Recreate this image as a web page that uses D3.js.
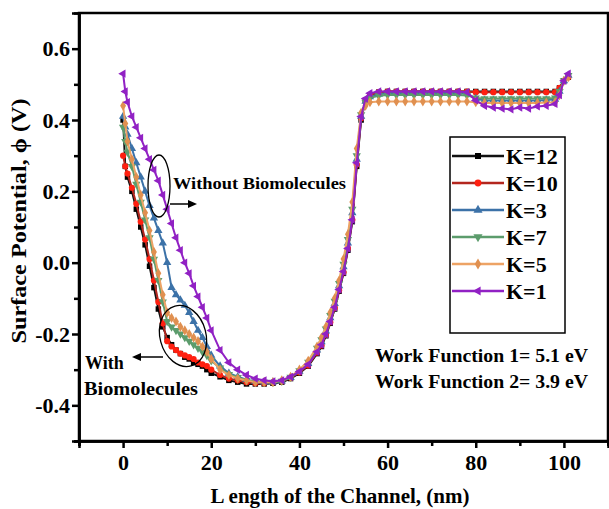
<!DOCTYPE html>
<html>
<head>
<meta charset="utf-8">
<script src="https://cdn.jsdelivr.net/npm/d3@7"></script>
<style>
  body { margin: 0; background: #fff; }
  svg { display: block; font-family: "Liberation Serif", "Times New Roman", serif; font-weight: bold; }
</style>
</head>
<body>
<script>
// position along the channel (nm)
var xs = [0, 0.5, 1, 2, 3, 4, 5, 6, 7, 8, 9, 10, 11, 12, 13, 14, 15, 16, 17, 18, 19, 20,
          22, 24, 26, 28, 30, 32, 34, 36, 38, 40, 42, 44,
          45, 46, 47, 48, 49, 50, 51, 52, 53, 54, 55, 56,
          58, 60, 62, 64, 66, 68, 70, 72, 74, 76, 78, 80, 82, 84, 86, 88, 90, 92, 94, 96, 98,
          99, 100, 101];

// surface potential (V) for each K
var k12 = [0.40, 0.27, 0.24, 0.20, 0.15, 0.10, 0.05, -0.01, -0.07, -0.13, -0.18, -0.21, -0.23, -0.245, -0.255, -0.265, -0.27, -0.28, -0.285, -0.29, -0.30, -0.31,
           -0.32, -0.33, -0.335, -0.34, -0.34, -0.34, -0.338, -0.335, -0.325, -0.31, -0.29, -0.255,
           -0.235, -0.205, -0.17, -0.13, -0.08, -0.03, 0.035, 0.115, 0.27, 0.40, 0.455, 0.47,
           0.478, 0.48, 0.48, 0.48, 0.48, 0.48, 0.48, 0.48, 0.48, 0.48, 0.48, 0.48, 0.48, 0.48, 0.48, 0.48, 0.48, 0.48, 0.48, 0.48, 0.48,
           0.49, 0.51, 0.52];
var k10 = [0.30, 0.27, 0.25, 0.21, 0.165, 0.115, 0.065, 0.01, -0.05, -0.11, -0.17, -0.22, -0.235, -0.245, -0.255, -0.26, -0.265, -0.27, -0.28, -0.285, -0.29, -0.30,
           -0.315, -0.325, -0.33, -0.335, -0.338, -0.338, -0.336, -0.333, -0.323, -0.308, -0.288, -0.252,
           -0.232, -0.202, -0.167, -0.127, -0.077, -0.027, 0.04, 0.12, 0.275, 0.405, 0.455, 0.47,
           0.478, 0.48, 0.48, 0.48, 0.48, 0.48, 0.48, 0.48, 0.48, 0.48, 0.48, 0.478, 0.478, 0.478, 0.478, 0.478, 0.478, 0.478, 0.478, 0.478, 0.478,
           0.49, 0.51, 0.52];
var k3  = [0.41, 0.38, 0.36, 0.32, 0.28, 0.24, 0.20, 0.16, 0.125, 0.09, 0.055, 0.0, -0.07, -0.09, -0.105, -0.12, -0.14, -0.165, -0.19, -0.21, -0.235, -0.26,
           -0.29, -0.31, -0.32, -0.328, -0.333, -0.335, -0.335, -0.332, -0.322, -0.305, -0.283, -0.245,
           -0.222, -0.192, -0.155, -0.115, -0.065, -0.012, 0.055, 0.14, 0.29, 0.41, 0.452, 0.465,
           0.472, 0.475, 0.475, 0.475, 0.475, 0.475, 0.475, 0.475, 0.475, 0.475, 0.474, 0.46, 0.455, 0.455, 0.455, 0.455, 0.455, 0.455, 0.455, 0.456, 0.458,
           0.48, 0.51, 0.525];
var k7  = [0.38, 0.34, 0.31, 0.27, 0.22, 0.17, 0.12, 0.07, 0.01, -0.05, -0.11, -0.165, -0.18, -0.19, -0.20, -0.21, -0.22, -0.23, -0.24, -0.25, -0.26, -0.275,
           -0.295, -0.313, -0.322, -0.33, -0.334, -0.335, -0.335, -0.332, -0.321, -0.303, -0.279, -0.24,
           -0.216, -0.186, -0.148, -0.108, -0.058, -0.004, 0.065, 0.15, 0.30, 0.415, 0.45, 0.462,
           0.468, 0.47, 0.47, 0.47, 0.47, 0.47, 0.47, 0.47, 0.47, 0.47, 0.469, 0.462, 0.46, 0.46, 0.46, 0.46, 0.46, 0.46, 0.46, 0.46, 0.462,
           0.48, 0.51, 0.525];
var k5  = [0.44, 0.39, 0.34, 0.29, 0.24, 0.19, 0.14, 0.09, 0.03, -0.03, -0.09, -0.14, -0.155, -0.165, -0.18, -0.19, -0.20, -0.21, -0.22, -0.235, -0.25, -0.27,
           -0.30, -0.315, -0.325, -0.33, -0.335, -0.335, -0.335, -0.33, -0.32, -0.30, -0.275, -0.235,
           -0.21, -0.18, -0.14, -0.10, -0.05, 0.01, 0.08, 0.17, 0.32, 0.42, 0.44, 0.45,
           0.452, 0.452, 0.452, 0.452, 0.452, 0.452, 0.452, 0.452, 0.452, 0.452, 0.452, 0.45, 0.448, 0.448, 0.448, 0.448, 0.448, 0.448, 0.448, 0.449, 0.45,
           0.47, 0.51, 0.52];
var k1  = [0.53, 0.48, 0.45, 0.41, 0.38, 0.35, 0.32, 0.29, 0.26, 0.23, 0.19, 0.15, 0.11, 0.07, 0.035, 0.0, -0.03, -0.065, -0.095, -0.125, -0.155, -0.19,
           -0.245, -0.28, -0.30, -0.315, -0.325, -0.33, -0.333, -0.33, -0.32, -0.305, -0.285, -0.25,
           -0.23, -0.20, -0.165, -0.125, -0.075, -0.025, 0.04, 0.12, 0.28, 0.41, 0.46, 0.475,
           0.48, 0.48, 0.48, 0.48, 0.48, 0.48, 0.48, 0.48, 0.48, 0.48, 0.478, 0.455, 0.44, 0.435, 0.432, 0.43, 0.435, 0.432, 0.438, 0.44, 0.445,
           0.47, 0.51, 0.53];

// legend labels and tick labels
var seriesNames = ["K=12", "K=10", "K=3", "K=7", "K=5", "K=1"];
var xTicks = [0, 20, 40, 60, 80, 100];
var xMinor = [-10, 10, 30, 50, 70, 90, 110];
var yTicks = [-0.4, -0.2, 0.0, 0.2, 0.4, 0.6];
var yMinor = [-0.5, -0.3, -0.1, 0.1, 0.3, 0.5];

var series = [
  {name: seriesNames[0], values: k12, line: "#111111", fill: "#000000", shape: d3.symbolSquare, rot: 0},
  {name: seriesNames[1], values: k10, line: "#b3261e", fill: "#ff2010", shape: d3.symbolCircle, rot: 0},
  {name: seriesNames[2], values: k3,  line: "#3c72a8", fill: "#3c72a8", shape: d3.symbolTriangle, rot: 0},
  {name: seriesNames[3], values: k7,  line: "#5c9c6c", fill: "#5c9c6c", shape: d3.symbolTriangle, rot: 180},
  {name: seriesNames[4], values: k5,  line: "#eda365", fill: "#e09050", shape: d3.symbolDiamond, rot: 0},
  {name: seriesNames[5], values: k1,  line: "#9121c4", fill: "#9121c4", shape: d3.symbolTriangle, rot: -90}
];

// plot box
var plotLeft = 79, plotRight = 608, plotTop = 13, plotBottom = 441;

var x = d3.scaleLinear().domain([-10, 110]).range([plotLeft, plotRight]);
var y = d3.scaleLinear().domain([-0.5, 0.7]).range([plotBottom, plotTop]);

var svg = d3.select("body").append("svg")
    .attr("width", 609)
    .attr("height", 509);

var valueline = d3.line()
    .x(function(d){ return x(d[0]); })
    .y(function(d){ return y(d[1]); });

// draw each series with its markers
series.forEach(function(s) {
  var pts = xs.map(function(v, i){ return [v, s.values[i]]; });
  var g = svg.append("g");
  g.append("path")
      .datum(pts)
      .attr("fill", "none")
      .attr("stroke", s.line)
      .attr("stroke-width", 2)
      .attr("d", valueline);
  g.selectAll("path.m")
      .data(pts)
      .enter()
      .append("path")
      .classed("m", true)
      .attr("d", d3.symbol().type(s.shape).size(30))
      .attr("fill", s.fill)
      .attr("transform", function(d){
        return "translate(" + x(d[0]) + "," + y(d[1]) + ") rotate(" + s.rot + ")";
      });
});

// frame
svg.append("rect")
    .attr("x", plotLeft).attr("y", plotTop)
    .attr("width", plotRight - plotLeft).attr("height", plotBottom - plotTop)
    .attr("fill", "none")
    .attr("stroke", "#000")
    .attr("stroke-width", 2.5);

// x axis
var xAxis = svg.append("g")
    .attr("transform", "translate(0," + plotBottom + ")")
    .call(d3.axisBottom(x).tickValues(xTicks).tickSize(7).tickFormat(function(d){ return d; }));
svg.append("g")
    .attr("transform", "translate(0," + plotBottom + ")")
    .call(d3.axisBottom(x).tickValues(xMinor).tickSize(5).tickFormat(""));

// y axis
var yAxis = svg.append("g")
    .attr("transform", "translate(" + plotLeft + ",0)")
    .call(d3.axisLeft(y).tickValues(yTicks).tickSize(7).tickFormat(function(d){ return d.toFixed(1); }));
svg.append("g")
    .attr("transform", "translate(" + plotLeft + ",0)")
    .call(d3.axisLeft(y).tickValues(yMinor).tickSize(5).tickFormat(""));

svg.selectAll(".domain").attr("stroke-width", 2.5);
svg.selectAll(".tick line").attr("stroke-width", 2.5);
xAxis.selectAll("text")
    .attr("font-size", 22)
    .attr("font-family", "Liberation Serif")
    .attr("font-weight", "bold")
    .attr("y", 13);
yAxis.selectAll("text")
    .attr("font-size", 22)
    .attr("font-family", "Liberation Serif")
    .attr("font-weight", "bold")
    .attr("x", -9);

// axis titles
svg.append("text")
    .attr("x", 340)
    .attr("y", 503)
    .attr("text-anchor", "middle")
    .style("font-size", "21px")
    .text("L ength of the Channel, (nm)");

svg.append("text")
    .attr("transform", "translate(26,221) rotate(-90)")
    .attr("text-anchor", "middle")
    .attr("textLength", 245)
    .attr("lengthAdjust", "spacingAndGlyphs")
    .style("font-size", "20px")
    .text("Surface Potential, \u03d5  (V)");

// legend
var legend = svg.append("g");
legend.append("rect")
    .attr("x", 450).attr("y", 137)
    .attr("width", 115).attr("height", 196)
    .attr("fill", "#fff")
    .attr("stroke", "#000")
    .attr("stroke-width", 1.5);
var legendY = d3.scalePoint().domain(seriesNames).range([156, 291]);
series.forEach(function(s) {
  var ly = legendY(s.name);
  legend.append("line")
      .attr("x1", 452).attr("x2", 504)
      .attr("y1", ly).attr("y2", ly)
      .attr("stroke", s.line)
      .attr("stroke-width", 2.5);
  legend.append("path")
      .attr("d", d3.symbol().type(s.shape).size(36))
      .attr("fill", s.fill)
      .attr("transform", "translate(478," + ly + ") rotate(" + s.rot + ")");
  legend.append("text")
      .attr("x", 506)
      .attr("y", ly + 8)
      .style("font-size", "22px")
      .text(s.name);
});

// annotations
svg.append("ellipse")
    .attr("cx", 159).attr("cy", 186).attr("rx", 11).attr("ry", 31)
    .attr("fill", "none").attr("stroke", "#000").attr("stroke-width", 1.3);
svg.append("line")
    .attr("x1", 170).attr("y1", 204).attr("x2", 190).attr("y2", 204)
    .attr("stroke", "#000").attr("stroke-width", 1.5);
svg.append("path")
    .attr("d", "M197,204 L188,200 L188,208 Z")
    .attr("fill", "#000");
svg.append("text")
    .attr("x", 173).attr("y", 189)
    .attr("textLength", 173)
    .attr("lengthAdjust", "spacingAndGlyphs")
    .style("font-size", "16px")
    .text("Without Biomolecules");

svg.append("ellipse")
    .attr("cx", 183).attr("cy", 336).attr("rx", 23).attr("ry", 31)
    .attr("transform", "rotate(-15,183,336)")
    .attr("fill", "none").attr("stroke", "#000").attr("stroke-width", 1.3);
svg.append("line")
    .attr("x1", 163).attr("y1", 357).attr("x2", 140).attr("y2", 357)
    .attr("stroke", "#000").attr("stroke-width", 1.5);
svg.append("path")
    .attr("d", "M132,357 L141,353 L141,361 Z")
    .attr("fill", "#000");
svg.append("text")
    .attr("x", 85).attr("y", 369)
    .style("font-size", "18px")
    .text("With");
svg.append("text")
    .attr("x", 84).attr("y", 395)
    .attr("textLength", 114)
    .attr("lengthAdjust", "spacingAndGlyphs")
    .style("font-size", "18px")
    .text("Biomolecules");

svg.append("text")
    .attr("x", 375).attr("y", 362)
    .attr("textLength", 213)
    .attr("lengthAdjust", "spacingAndGlyphs")
    .style("font-size", "19px")
    .text("Work Function 1= 5.1 eV");
svg.append("text")
    .attr("x", 375).attr("y", 388)
    .attr("textLength", 213)
    .attr("lengthAdjust", "spacingAndGlyphs")
    .style("font-size", "19px")
    .text("Work Function 2= 3.9 eV");
</script>
</body>
</html>
